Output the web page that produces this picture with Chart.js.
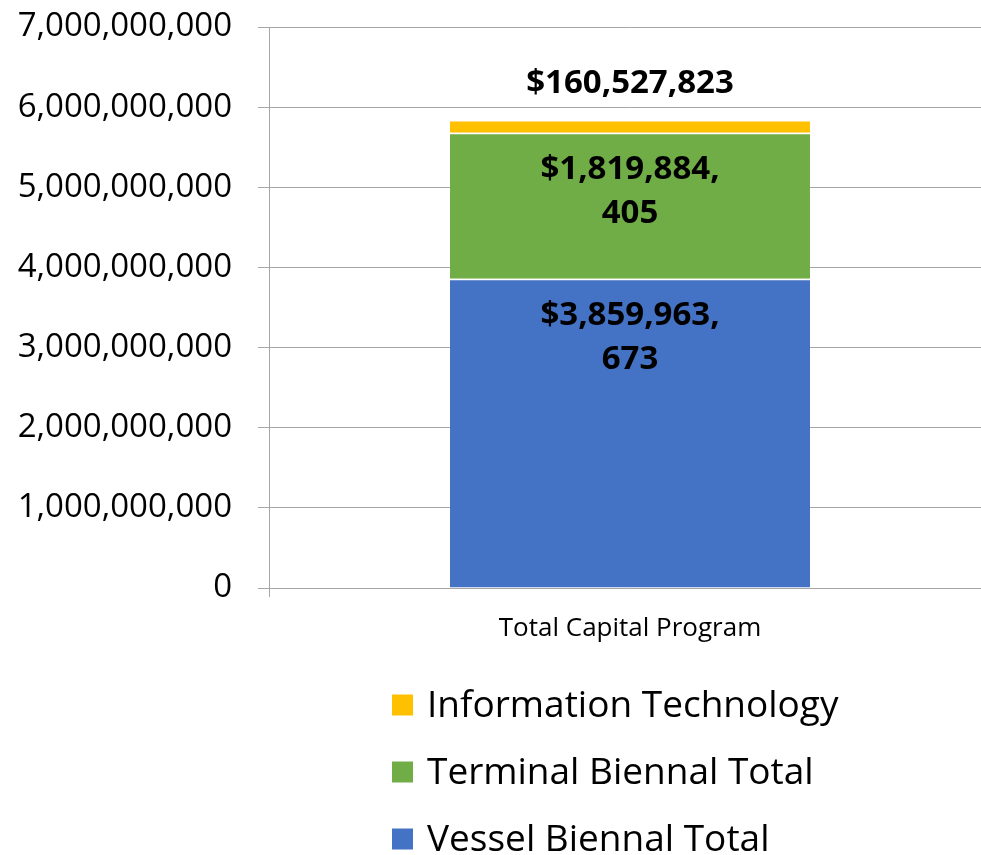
<!DOCTYPE html>
<html>
<head>
<meta charset="utf-8">
<title>Total Capital Program</title>
<script src="https://cdn.jsdelivr.net/npm/chart.js@4.4.1/dist/chart.umd.min.js"></script>
<style>
    html, body { margin: 0; padding: 0; background: #fff; overflow: hidden; }
    #wrap { width: 991px; height: 855px; position: relative; }
</style>
</head>
<body>
<div id="wrap"><canvas id="chart"></canvas></div>
<script>
// Capital program totals (stacked bottom to top)
const categories = ['Total Capital Program'];
const seriesNames = ['Vessel Biennal Total', 'Terminal Biennal Total', 'Information Technology'];
const vesselTotals = [3859963673];
const terminalTotals = [1819884405];
const itTotals = [160527823];
const seriesColors = ['#4472C4', '#70AD47', '#FFC000'];
const yMax = 7000000000;
const yStep = 1000000000;

const FONT = '"Open Sans", "Liberation Sans", sans-serif';
const GRID = '#a6a6a6';

// break "$3,859,963,673" after a comma once the line gets too wide for the bar
function wrapMoney(ctx, value, maxWidth) {
    const text = '$' + value.toLocaleString('en-US');
    const parts = text.split(/(?<=,)/);
    const lines = [];
    let cur = '';
    parts.forEach(p => {
        if (cur && ctx.measureText(cur + p).width > maxWidth) {
            lines.push(cur);
            cur = p;
        } else {
            cur += p;
        }
    });
    if (cur) lines.push(cur);
    return lines;
}

const valueLabels = {
    id: 'valueLabels',
    afterDatasetsDraw(chart) {
        const ctx = chart.ctx;
        const last = chart.data.datasets.length - 1;
        const lineGap = 44;
        ctx.save();
        ctx.font = 'bold 33px ' + FONT;
        ctx.fillStyle = '#000';
        ctx.textAlign = 'center';
        ctx.textBaseline = 'middle';
        chart.data.datasets.forEach((ds, i) => {
            chart.getDatasetMeta(i).data.forEach((bar, j) => {
                const lines = wrapMoney(ctx, ds.data[j], 210);
                // top segment gets its label above the bar, others inside the top edge
                const y0 = i === last ? bar.y - 36 - (lines.length - 1) * lineGap : bar.y + 37;
                lines.forEach((ln, k) => ctx.fillText(ln, bar.x, y0 + k * lineGap));
            });
        });
        ctx.restore();
    }
};

// vertical legend under the axis title, topmost series first
const stackLegend = {
    id: 'stackLegend',
    afterDraw(chart) {
        const ctx = chart.ctx;
        const area = chart.chartArea;
        const box = 21, gap = 14, rowH = 67, firstY = 705;
        ctx.save();
        ctx.font = '37px ' + FONT;
        ctx.textBaseline = 'middle';
        ctx.textAlign = 'left';
        const items = chart.data.datasets.map(ds => ({ text: ds.label, color: ds.backgroundColor })).reverse();
        const widest = Math.max(...items.map(it => ctx.measureText(it.text).width));
        const blockW = box + gap + widest;
        const x0 = Math.round((area.left + area.right) / 2 - 15 - blockW / 2);
        items.forEach((it, k) => {
            const cy = firstY + k * rowH;
            ctx.fillStyle = it.color;
            ctx.fillRect(x0, cy - box / 2, box, box);
            ctx.fillStyle = '#000';
            ctx.fillText(it.text, x0 + box + gap, cy + 1);
        });
        ctx.restore();
    }
};

const segmentStyle = {
    borderColor: '#ffffff',
    borderWidth: { top: 1.5, left: 0, right: 0, bottom: 0 },
    borderSkipped: false,
    categoryPercentage: 1,
    barPercentage: 0.4986
};

new Chart(document.getElementById('chart'), {
    type: 'bar',
    data: {
        labels: categories,
        datasets: [
            { label: seriesNames[0], data: vesselTotals, backgroundColor: seriesColors[0], ...segmentStyle },
            { label: seriesNames[1], data: terminalTotals, backgroundColor: seriesColors[1], ...segmentStyle },
            { label: seriesNames[2], data: itTotals, backgroundColor: seriesColors[2], ...segmentStyle }
        ]
    },
    options: {
        responsive: true,
        maintainAspectRatio: false,
        animation: false,
        layout: { padding: { top: 27, right: 0, bottom: 0, left: 0 } },
        plugins: {
            legend: { display: false },
            tooltip: { enabled: false }
        },
        scales: {
            x: {
                stacked: true,
                afterFit: scale => { scale.height = 267; },
                grid: {
                    display: true,
                    drawOnChartArea: false,
                    tickLength: 9,
                    // only the left edge gets a tick mark
                    color: c => (c.index === 0 ? GRID : 'rgba(0,0,0,0)')
                },
                border: { color: GRID },
                ticks: { color: '#000', padding: 16, font: { family: FONT, size: 26 } }
            },
            y: {
                stacked: true,
                min: 0,
                max: yMax,
                afterFit: scale => {
                    scale.width = 269;
                    scale.paddingTop = 0;
                    scale.paddingBottom = 0;
                },
                grid: { color: GRID, tickLength: 11 },
                border: { color: GRID },
                ticks: {
                    stepSize: yStep,
                    color: '#000',
                    padding: 26,
                    font: { family: FONT, size: 33 },
                    callback: v => v.toLocaleString('en-US')
                }
            }
        }
    },
    plugins: [valueLabels, stackLegend]
});
</script>
</body>
</html>
